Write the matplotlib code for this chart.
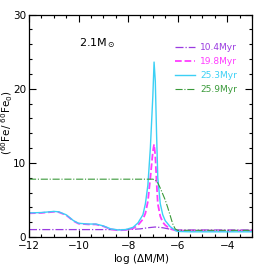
import numpy as np
import matplotlib.pyplot as plt
from matplotlib.ticker import MultipleLocator

# log(dM/M) sample positions and 60Fe/60Fe0 values
x_main = [-12, -11.5, -11, -10.8, -10.5, -10.2, -10, -9.6, -9.3, -9, -8.7, -8.4, -8.1,
          -7.8, -7.6, -7.4, -7.3, -7.2, -7.1, -7.0, -6.95, -6.9, -6.85, -6.8, -6.7,
          -6.6, -6.5, -6.3, -6.1, -6.0, -5.5, -5, -4, -3]
y_253 = [3.25, 3.3, 3.45, 3.4, 3.0, 2.2, 1.85, 1.75, 1.75, 1.5, 1.1, 0.95, 1.0,
         1.3, 1.9, 3.0, 4.5, 7.0, 12.0, 19.0, 23.6, 21.0, 14.0, 8.0, 4.5,
         3.0, 2.2, 1.4, 0.9, 0.75, 0.7, 0.7, 0.7, 0.7]
y_198 = [3.2, 3.25, 3.4, 3.35, 2.95, 2.15, 1.8, 1.7, 1.7, 1.45, 1.05, 0.9, 0.95,
         1.15, 1.6, 2.4, 3.2, 4.8, 8.0, 11.5, 12.5, 11.0, 7.5, 4.5, 2.8,
         2.0, 1.6, 1.1, 0.9, 0.85, 0.85, 0.85, 0.85, 0.85]

x_259 = [-12, -7.2, -7.0, -6.9, -6.8, -6.7, -6.6, -6.5, -6.4, -6.3, -6.2, -6.1, -6.0, -5.5, -3]
y_259 = [7.8, 7.8, 7.8, 7.7, 7.3, 6.6, 5.8, 5.0, 4.0, 2.9, 1.8, 1.1, 0.9, 0.9, 0.9]

x_104 = [-12, -8, -7.5, -7.2, -6.9, -6.6, -6.3, -6.0, -3]
y_104 = [1.0, 1.0, 1.1, 1.25, 1.35, 1.25, 1.05, 0.95, 0.95]

labels = ["10.4Myr", "19.8Myr", "25.3Myr", "25.9Myr"]
colors = ["#9a3be0", "#ff3cff", "#3cd0f5", "#3a9a3a"]

fig = plt.figure(figsize=(2.66, 2.66), dpi=100)
ax = fig.add_axes([0.109, 0.109, 0.838, 0.836])

ax.plot(x_104, y_104, color=colors[0], ls='-.', lw=0.9, label=labels[0])
ax.plot(x_main, y_198, color=colors[1], ls='--', lw=1.3, label=labels[1])
ax.plot(x_main, y_253, color=colors[2], ls='-', lw=1.0, label=labels[2])
ax.plot(x_259, y_259, color=colors[3], ls='-.', lw=0.8, label=labels[3])

ax.set_xlim(-12, -3)
ax.set_ylim(0, 30)
ax.xaxis.set_major_locator(MultipleLocator(2))
ax.xaxis.set_minor_locator(MultipleLocator(0.5))
ax.yaxis.set_major_locator(MultipleLocator(10))
ax.yaxis.set_minor_locator(MultipleLocator(2))
ax.tick_params(which='both', direction='in', top=True, right=True, labelsize=7.5, width=0.8)
ax.tick_params(which='major', length=5)
ax.tick_params(axis='x', which='major', pad=3)
ax.tick_params(axis='y', which='major', pad=2)
ax.tick_params(which='minor', length=2.5)
for s in ax.spines.values():
    s.set_linewidth(0.9)

fig.text(0.53, 0.0, r"log ($\Delta$M/M)", fontsize=7.5, ha='center', va='bottom')
fig.text(0.0, 0.54, r"($^{60}$Fe/ $^{60}$Fe$_0$)", fontsize=7.5, rotation=90,
         ha='left', va='center')
ax.text(-10.0, 25.8, r"2.1M$_\odot$", fontsize=8)

leg = ax.legend(loc='upper right', bbox_to_anchor=(0.97, 0.91), frameon=False,
                fontsize=6.5, handlelength=2.2, labelspacing=0.55, handletextpad=0.6)
for t, c in zip(leg.get_texts(), colors):
    t.set_color(c)

fig.savefig("out.png", dpi=100)
